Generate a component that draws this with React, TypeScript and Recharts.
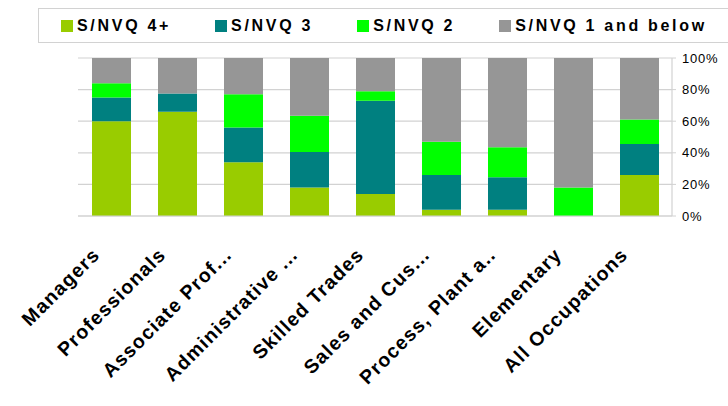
// Qualification levels by occupation, 100% stacked columns

import { BarChart, Bar, XAxis, YAxis, CartesianGrid, Legend } from "recharts";

const occupations = [
  "Managers",
  "Professionals",
  "Associate Prof...",
  "Administrative ...",
  "Skilled Trades",
  "Sales and Cus...",
  "Process, Plant a..",
  "Elementary",
  "All Occupations",
];

const nvq4plus = [60, 66, 34, 18, 14, 4, 4, 0, 26];
const nvq3 = [15, 11.5, 22, 22.5, 59, 22, 20.5, 0, 19.5];
const nvq2 = [9, 0, 21, 23, 6, 21, 19, 18, 15.5];
const nvq1below = [16, 22.5, 23, 36.5, 21, 53, 56.5, 82, 39];

const series = [
  { key: "nvq4", name: "S/NVQ 4+", color: "#99CC00", values: nvq4plus },
  { key: "nvq3", name: "S/NVQ 3", color: "#008080", values: nvq3 },
  { key: "nvq2", name: "S/NVQ 2", color: "#00FF00", values: nvq2 },
  { key: "nvq1", name: "S/NVQ 1 and below", color: "#969696", values: nvq1below },
];

const percentTicks = [0, 20, 40, 60, 80, 100];

const rows = occupations.map((name, i) => {
  const row: Record<string, string | number> = { name };
  series.forEach((s) => {
    row[s.key] = s.values[i];
  });
  return row;
});

const GRID = "#d2d2d2";

function CategoryTick({ x, y, payload }: any) {
  return (
    <g transform={`translate(${x - 10},${y + 32}) rotate(-45)`}>
      <text
        x={0}
        y={0}
        textAnchor="end"
        fontFamily="Liberation Sans, Arial, sans-serif"
        fontWeight="bold"
        fontSize={19.5}
        letterSpacing={1.2}
        fill="#000"
      >
        {payload.value}
      </text>
    </g>
  );
}

function BoxLegend() {
  return (
    <div
      style={{
        boxSizing: "border-box",
        width: 700,
        height: 35,
        border: `1px solid ${GRID}`,
        borderRight: "none",
        display: "flex",
        alignItems: "center",
        paddingLeft: 22,
        gap: 44,
        fontFamily: "Liberation Sans, Arial, sans-serif",
        fontWeight: "bold",
        fontSize: 16,
        letterSpacing: 2.7,
        color: "#000",
        background: "#fff",
      }}
    >
      {series.map((s) => (
        <div key={s.key} style={{ display: "flex", alignItems: "center" }}>
          <span
            style={{
              width: 12,
              height: 12,
              background: s.color,
              marginRight: 4,
              display: "inline-block",
            }}
          />
          <span style={{ lineHeight: "16px" }}>{s.name}</span>
        </div>
      ))}
    </div>
  );
}

export default function App() {
  return (
    <div style={{ width: 728, height: 406, overflow: "hidden", position: "relative" }}>
      <style>{`body { margin: 0; }`}</style>
      <BarChart
        width={728}
        height={406}
        data={rows}
        margin={{ top: 23, right: 0, bottom: 0, left: 78 }}
      >
        <CartesianGrid vertical={false} stroke={GRID} strokeWidth={1.2} />
        <Legend
          verticalAlign="top"
          content={() => <BoxLegend />}
          wrapperStyle={{ top: 8, left: 38, width: 700, height: 35 }}
        />
        <XAxis
          dataKey="name"
          interval={0}
          height={190}
          tickLine={false}
          axisLine={{ stroke: GRID, strokeWidth: 1.2 }}
          tick={<CategoryTick />}
        />
        <YAxis
          orientation="right"
          width={56}
          domain={[0, 100]}
          ticks={percentTicks}
          tickFormatter={(v: number) => `${v}%`}
          axisLine={{ stroke: GRID, strokeWidth: 1.2 }}
          tickLine={{ stroke: GRID }}
          tickSize={4}
          tickMargin={6}
          tick={{
            fill: "#000",
            fontSize: 13,
            fontFamily: "Liberation Sans, Arial, sans-serif",
            letterSpacing: 0.8,
          }}
        />
        {series.map((s) => (
          <Bar
            key={s.key}
            dataKey={s.key}
            name={s.name}
            stackId="qual"
            fill={s.color}
            barSize={39}
            isAnimationActive={false}
          />
        ))}
      </BarChart>
    </div>
  );
}
